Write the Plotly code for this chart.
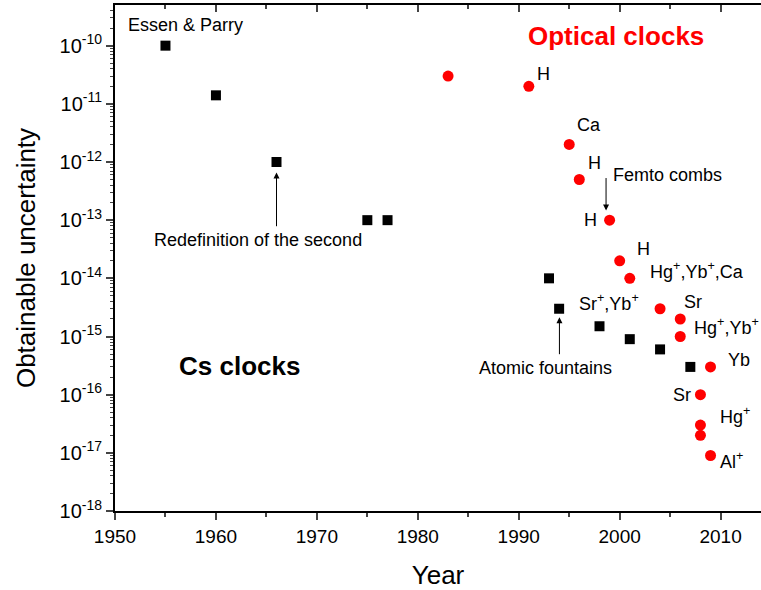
import plotly.graph_objects as go

# Cs clocks (black squares)
cs_year = [1955, 1960, 1966, 1975, 1977, 1993, 1994, 1998, 2001, 2004, 2007]
cs_unc = [1e-10, 1.4e-11, 1e-12, 1e-13, 1e-13, 1e-14, 3e-15, 1.5e-15, 9e-16, 6e-16, 3e-16]

# optical clocks (red circles)
opt_year = [1983, 1991, 1995, 1996, 1999, 2000, 2001, 2004, 2006, 2006, 2009, 2008, 2008, 2008, 2009]
opt_unc = [3e-11, 2e-11, 2e-12, 5e-13, 1e-13, 2e-14, 1e-14, 3e-15, 2e-15, 1e-15,
           3e-16, 1e-16, 3e-17, 2e-17, 9e-18]

x_ticks = [1950, 1960, 1970, 1980, 1990, 2000, 2010]
y_exp = list(range(-18, -9))

FONT = "Liberation Sans, Arial, sans-serif"

fig = go.Figure()
fig.add_trace(go.Scatter(x=cs_year, y=cs_unc, mode="markers", name="Cs",
                         marker=dict(symbol="square", size=10, color="black")))
fig.add_trace(go.Scatter(x=opt_year, y=opt_unc, mode="markers", name="Optical",
                         marker=dict(symbol="circle", size=11, color="#ff0000")))
# empty trace so the top (mirror) axis gets drawn
fig.add_trace(go.Scatter(x=[], y=[], xaxis="x2", hoverinfo="skip"))

# text labels (x in years, y in log10)
labels = [
    ("Essen & Parry", 1951.1, -9.64),
    ("H", 1991.65, -10.48),
    ("Ca", 1995.6, -11.36),
    ("H", 1996.7, -12.01),
    ("Femto combs", 1999.1, -12.216),
    ("H", 1996.3, -12.99),
    ("Redefinition of the second", 1953.7, -13.345),
    ("H", 2001.5, -13.49),
    ("Hg<sup>+</sup>,Yb<sup>+</sup>,Ca", 2002.85, -13.86),
    ("Sr<sup>+</sup>,Yb<sup>+</sup>", 1995.8, -14.42),
    ("Sr", 2006.2, -14.41),
    ("Hg<sup>+</sup>,Yb<sup>+</sup>", 2007.2, -14.83),
    ("Yb", 2010.5, -15.41),
    ("Atomic fountains", 1985.9, -15.545),
    ("Sr", 2005.1, -16.0),
    ("Hg<sup>+</sup>", 2009.7, -16.36),
    ("Al<sup>+</sup>", 2009.7, -17.13),
]
for txt, x, y in labels:
    fig.add_annotation(x=x, y=y, text=txt, showarrow=False, xanchor="left", yanchor="middle",
                       font=dict(family=FONT, size=18, color="black"))

fig.add_annotation(x=1990.7, y=-9.83, text="<b>Optical clocks</b>", showarrow=False,
                   xanchor="left", yanchor="middle", font=dict(family=FONT, size=26, color="#ff0000"))
fig.add_annotation(x=1956.1, y=-15.50, text="<b>Cs clocks</b>", showarrow=False,
                   xanchor="left", yanchor="middle", font=dict(family=FONT, size=26, color="black"))

# arrows
arrows = [
    (1966.0, -12.18, 1966.0, -13.13),
    (1998.65, -12.835, 1998.65, -12.25),
    (1994.03, -14.67, 1994.03, -15.33),
]
for x, y, ax, ay in arrows:
    fig.add_annotation(x=x, y=y, ax=ax, ay=ay, axref="x", ayref="y", text="",
                       showarrow=True, arrowhead=2, arrowsize=1.2, arrowwidth=1, arrowcolor="black")

minor_y = [m * 10.0 ** e for e in range(-18, -10) for m in range(2, 10)] + [2e-10, 3e-10, 4e-10]

fig.update_layout(
    width=761, height=590,
    margin=dict(l=115, r=0, t=5, b=79),
    plot_bgcolor="white", paper_bgcolor="white",
    showlegend=False,
    font=dict(family=FONT, color="black"),
    xaxis=dict(
        range=[1950, 2014.0], tickvals=x_ticks, ticks="outside", ticklen=7, tickwidth=1.5,
        showline=True, linecolor="black", linewidth=2, showgrid=False, zeroline=False,
        tickfont=dict(size=19), minor=dict(dtick=5, ticks="outside", ticklen=4, tickwidth=1.5),
        title=dict(text="Year", font=dict(size=26), standoff=20), automargin=False,
    ),
    xaxis2=dict(
        range=[1950, 2014.0], overlaying="x", side="top", tickvals=x_ticks, ticks="inside",
        ticklen=7, tickwidth=1.5, showticklabels=False, showline=True, linecolor="black",
        linewidth=2, showgrid=False, zeroline=False, automargin=False,
        minor=dict(dtick=5, ticks="inside", ticklen=4, tickwidth=1.5),
    ),
    yaxis=dict(
        type="log", range=[-18, -9.301],
        tickvals=[10.0 ** e for e in y_exp],
        ticktext=["10<sup>%d</sup>" % e for e in y_exp],
        ticks="outside", ticklen=7, tickwidth=1.5,
        showline=True, linecolor="black", linewidth=2, showgrid=False, zeroline=False,
        tickfont=dict(size=20), automargin=False,
        minor=dict(tickvals=minor_y, ticks="outside", ticklen=3, tickwidth=1),
        title=dict(text="Obtainable uncertainty", font=dict(size=26), standoff=16),
    ),
)

fig.write_html("out.html", config={"displayModeBar": False},
               post_script="document.body.style.margin='0';document.body.style.overflow='hidden';")
